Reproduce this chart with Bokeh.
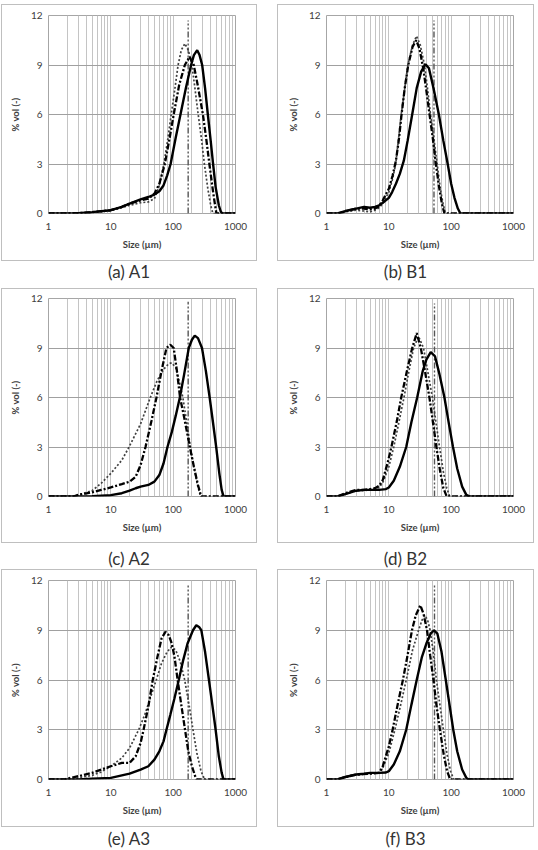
from bokeh.plotting import figure
from bokeh.models import Range1d, FixedTicker, NumeralTickFormatter, Div, Spacer
from bokeh.layouts import column, row
from bokeh.embed import file_html
from bokeh.resources import INLINE

# ---------------- data (size in µm, % vol) ----------------
captions = ["(a) A1", "(b) B1", "(c) A2", "(d) B2", "(e) A3", "(f) B3"]
y_ticks = [0, 3, 6, 9, 12]
x_ticks = [1, 10, 100, 1000]

# A1
a1_solid_x = [1, 3, 5, 10, 15, 20, 30, 40, 50, 60, 70, 80, 91, 110, 131, 160, 194, 215, 243, 265, 292, 325, 360, 400, 437, 480, 540, 580, 610, 1000]
a1_solid_y = [0, 0.02, 0.08, 0.2, 0.4, 0.6, 0.85, 1.0, 1.15, 1.35, 1.7, 2.3, 3.0, 4.6, 6.0, 7.6, 9.0, 9.6, 9.9, 9.6, 9.0, 7.6, 6.0, 4.4, 3.0, 1.6, 0.5, 0.12, 0, 0]
a1_dash_x = [1, 3, 5, 10, 15, 20, 30, 40, 50, 60, 73.5, 87, 102, 125, 154, 183, 214, 250, 300, 340, 381, 430, 470, 495, 1000]
a1_dash_y = [0, 0.02, 0.08, 0.2, 0.4, 0.6, 0.8, 0.9, 1.2, 1.8, 3.0, 4.5, 6.0, 7.8, 9.0, 9.5, 9.0, 7.7, 6.0, 4.5, 3.0, 1.5, 0.5, 0, 0]
a1_dot_x = [1, 3, 5, 10, 15, 20, 30, 40, 50, 60, 71, 82, 93, 106, 120, 135, 154, 175, 200, 225, 252, 285, 317, 360, 400, 433, 1000]
a1_dot_y = [0, 0.02, 0.06, 0.18, 0.35, 0.5, 0.65, 0.7, 0.9, 1.7, 3.0, 4.5, 6.0, 7.5, 9.0, 9.9, 10.3, 9.9, 9.0, 7.5, 6.0, 4.5, 3.0, 1.5, 0.5, 0, 0]

# B1
b1_solid_x = [1, 1.5, 2, 3, 4, 5, 6, 7, 8, 10, 11.3, 13, 15, 17.4, 20, 23.7, 28, 33, 38.7, 44, 52, 63.5, 75, 88, 100, 113, 128, 141, 1000]
b1_solid_y = [0, 0, 0.15, 0.3, 0.4, 0.35, 0.4, 0.5, 0.65, 0.95, 1.3, 1.8, 2.4, 3.2, 4.4, 6.0, 7.6, 8.6, 9.05, 8.8, 7.6, 6.0, 4.4, 3.0, 1.8, 0.95, 0.3, 0, 0]
b1_dash_x = [1, 1.5, 2, 3, 4, 5, 6, 7, 8, 10, 11.5, 13, 14.5, 16, 18, 20.5, 24, 27.5, 31, 36, 40.5, 45, 51, 57, 64, 71, 78, 1000]
b1_dash_y = [0, 0, 0.12, 0.3, 0.3, 0.25, 0.3, 0.45, 0.8, 1.5, 2.3, 3.2, 4.5, 6.0, 7.6, 9.0, 10.1, 10.5, 10.0, 8.7, 7.3, 6.0, 4.5, 3.0, 1.6, 0.6, 0, 0]
b1_dot_x = [1, 1.5, 2, 3, 4, 5, 6, 7, 8, 10, 11.5, 12.9, 14.3, 15.8, 18, 20.2, 24, 27.8, 32, 37.3, 42, 46.6, 53, 59.6, 67, 74, 81, 1000]
b1_dot_y = [0, 0, 0.1, 0.2, 0.15, 0.1, 0.2, 0.35, 0.6, 1.3, 2.1, 3.0, 4.5, 6.0, 7.6, 9.0, 10.2, 10.75, 10.2, 9.0, 7.5, 6.0, 4.5, 3.0, 1.5, 0.6, 0, 0]

# A2
a2_solid_x = [1, 3, 5, 10, 15, 20, 25, 30, 40, 50, 60, 70, 81, 95, 110, 128, 150, 178, 200, 222, 250, 290, 335, 385, 435, 490, 550, 600, 645, 1000]
a2_solid_y = [0, 0, 0.02, 0.08, 0.2, 0.35, 0.5, 0.6, 0.7, 0.9, 1.3, 2.0, 3.0, 3.9, 4.9, 6.0, 7.4, 9.0, 9.5, 9.75, 9.6, 9.0, 7.6, 6.0, 4.5, 3.0, 1.4, 0.4, 0, 0]
a2_dash_x = [1, 2.5, 3, 5, 7, 10, 15, 20, 25, 30, 36, 45, 54, 65, 78, 90, 102, 115, 129, 150, 185, 215, 250, 282, 1000]
a2_dash_y = [0, 0, 0.1, 0.25, 0.4, 0.55, 0.75, 0.9, 1.2, 1.9, 3.0, 4.6, 6.0, 7.6, 9.0, 9.2, 9.0, 7.6, 6.0, 4.8, 3.0, 1.8, 0.7, 0, 0]
a2_dot_x = [1, 2.5, 3, 5, 7, 10, 15, 19.6, 30, 43, 55, 70, 85, 95, 110, 125, 143, 165, 189, 215, 245, 275, 1000]
a2_dot_y = [0, 0, 0.1, 0.35, 0.8, 1.4, 2.2, 3.0, 4.4, 6.0, 7.0, 7.7, 8.05, 8.1, 7.8, 7.0, 6.0, 4.5, 3.0, 1.8, 0.7, 0, 0]

# B2
b2_solid_x = [1, 1.5, 2, 3, 4, 5, 7, 9, 10, 12, 15, 19, 23, 28.5, 35, 40, 47, 55, 65, 78, 92, 107, 125, 150, 175, 200, 1000]
b2_solid_y = [0, 0, 0.15, 0.35, 0.4, 0.4, 0.4, 0.45, 0.55, 0.95, 1.8, 3.0, 4.5, 6.0, 7.6, 8.3, 8.75, 8.5, 7.4, 6.0, 4.4, 3.0, 1.7, 0.6, 0.1, 0, 0]
b2_dash_x = [1, 1.5, 2, 3, 4, 5, 6, 7, 8, 9.5, 11, 13.5, 15.8, 19.5, 23.7, 28, 32.6, 38, 44.8, 51, 58, 66, 75, 85, 1000]
b2_dash_y = [0, 0, 0.2, 0.4, 0.4, 0.45, 0.5, 0.65, 1.0, 2.0, 3.0, 4.6, 6.0, 7.6, 9.0, 9.9, 9.0, 7.6, 6.0, 4.5, 3.0, 1.6, 0.5, 0, 0]
b2_dot_x = [1, 1.5, 2, 3, 4, 5, 6, 7, 8, 10, 12, 14.5, 17.5, 21, 25, 30, 36, 42, 50, 57, 65, 75, 85, 95, 1000]
b2_dot_y = [0, 0, 0.15, 0.35, 0.35, 0.4, 0.45, 0.55, 0.85, 1.8, 3.0, 4.5, 6.0, 7.6, 9.0, 9.7, 9.0, 7.6, 6.0, 4.5, 3.0, 1.5, 0.5, 0, 0]

# A3
a3_solid_x = [1, 3, 5, 10, 20, 30, 40, 50, 60, 70, 78, 90, 105, 123, 145, 170, 208, 235, 260, 283, 325, 375, 425, 480, 540, 600, 645, 1000]
a3_solid_y = [0, 0, 0.05, 0.1, 0.35, 0.6, 0.8, 1.2, 1.7, 2.3, 3.0, 3.9, 4.9, 6.0, 7.2, 8.2, 9.0, 9.3, 9.2, 9.0, 7.7, 6.0, 4.5, 3.0, 1.4, 0.4, 0, 0]
a3_dash_x = [1, 1.8, 2, 3, 5, 7, 10, 15, 20, 25, 30, 33.5, 40, 47, 56, 65, 75, 85, 95, 105, 118, 135, 155, 175, 200, 230, 240, 1000]
a3_dash_y = [0, 0, 0.05, 0.2, 0.4, 0.6, 0.8, 1.0, 1.0, 1.4, 2.2, 3.0, 4.4, 6.0, 7.4, 8.5, 8.9, 8.7, 8.2, 7.4, 6.0, 4.5, 3.0, 1.7, 0.8, 0.1, 0, 0]
a3_dot_x = [1, 2.5, 3, 5, 7, 10, 15, 20, 28, 35, 42, 53.5, 65, 80, 95, 110, 130, 153, 180, 208, 240, 280, 320, 1000]
a3_dot_y = [0, 0, 0.1, 0.25, 0.45, 0.8, 1.3, 1.9, 3.0, 3.9, 4.8, 6.0, 7.0, 7.7, 8.0, 7.8, 7.1, 6.0, 4.5, 3.0, 1.6, 0.5, 0, 0]

# B3
b3_solid_x = [1, 1.5, 2, 3, 4, 5, 7, 9, 10, 12, 15, 19, 23, 28, 34, 40, 47, 53, 60, 70, 82, 95, 108, 125, 150, 175, 190, 1000]
b3_solid_y = [0, 0, 0.15, 0.3, 0.35, 0.4, 0.4, 0.42, 0.5, 0.9, 1.7, 3.0, 4.5, 6.0, 7.4, 8.2, 8.8, 9.0, 8.8, 7.7, 6.0, 4.4, 3.0, 1.7, 0.6, 0.1, 0, 0]
b3_dash_x = [1, 1.5, 2, 3, 5, 7, 8, 10, 11.5, 14, 16.8, 20, 23.5, 27, 32, 36, 41, 46, 52, 58, 66, 76, 86, 97, 1000]
b3_dash_y = [0, 0, 0.15, 0.3, 0.35, 0.4, 0.8, 2.0, 3.0, 4.6, 6.0, 7.5, 9.0, 9.9, 10.5, 10.0, 9.0, 7.5, 6.0, 4.5, 3.0, 1.5, 0.5, 0, 0]
b3_dot_x = [1, 1.5, 2, 3, 5, 7, 8, 10, 12.5, 15.5, 19, 24, 30, 34, 38, 42, 46, 52, 58, 66, 75, 86, 98, 110, 1000]
b3_dot_y = [0, 0, 0.12, 0.28, 0.35, 0.4, 0.7, 1.6, 3.0, 4.5, 6.0, 7.8, 9.0, 9.6, 9.9, 9.6, 9.0, 7.6, 6.0, 4.5, 3.0, 1.5, 0.5, 0, 0]

# reference (vertical) size lines: position and height
ref_size = [174, 53, 174, 54, 174, 54]
ref_height = [11.7, 11.7, 11.8, 11.7, 11.7, 11.7]

series = [
    (a1_solid_x, a1_solid_y, a1_dash_x, a1_dash_y, a1_dot_x, a1_dot_y),
    (b1_solid_x, b1_solid_y, b1_dash_x, b1_dash_y, b1_dot_x, b1_dot_y),
    (a2_solid_x, a2_solid_y, a2_dash_x, a2_dash_y, a2_dot_x, a2_dot_y),
    (b2_solid_x, b2_solid_y, b2_dash_x, b2_dash_y, b2_dot_x, b2_dot_y),
    (a3_solid_x, a3_solid_y, a3_dash_x, a3_dash_y, a3_dot_x, a3_dot_y),
    (b3_solid_x, b3_solid_y, b3_dash_x, b3_dash_y, b3_dot_x, b3_dot_y),
]

# ---------------- layout geometry ----------------
FONT = "Lato"
COL_W = [256, 257]
COL_L = [47, 49]
FRAME_W = 187
ROW_H = [257, 255, 258]
ROW_T = [11, 10, 11]
FRAME_H = [198, 198, 199]
CAP_H = [27, 26, 23]
CAP_PAD = [1, 6, 2]
TOP_GAP = 4
LEFT_GAP = 1
MID_GAP = 20


def make_panel(i):
    r, c = divmod(i, 2)
    W, H = COL_W[c], ROW_H[r]
    p = figure(width=W, height=H, x_axis_type="log",
               x_range=Range1d(1, 1000), y_range=Range1d(0, 12),
               output_backend="svg", toolbar_location=None, title=None,
               min_border_left=COL_L[c], min_border_right=W - COL_L[c] - FRAME_W,
               min_border_top=ROW_T[r], min_border_bottom=H - ROW_T[r] - FRAME_H[r],
               margin=0,
               styles={"outline": "1.5px solid #bfbfbf", "outline-offset": "-1.5px"})
    p.background_fill_color = "white"
    p.border_fill_color = None
    p.outline_line_color = "#a6a6a6"
    p.outline_line_width = 1

    minor = [m * 10 ** e for e in range(3) for m in range(2, 10)]
    xt = FixedTicker(ticks=x_ticks, minor_ticks=minor)
    yt = FixedTicker(ticks=y_ticks)
    p.xaxis.ticker = xt
    p.xgrid.ticker = xt
    p.yaxis.ticker = yt
    p.ygrid.ticker = yt
    p.xaxis.formatter = NumeralTickFormatter(format="0")

    p.xgrid.grid_line_color = "#c4c4c4"
    p.xgrid.minor_grid_line_color = "#c4c4c4"
    p.xgrid.grid_line_width = 1
    p.ygrid.grid_line_color = "#a0a0a0"
    p.ygrid.grid_line_width = 1

    for ax in (p.xaxis[0], p.yaxis[0]):
        ax.axis_line_color = None
        ax.major_tick_line_color = None
        ax.minor_tick_line_color = None
        ax.major_tick_out = 0
        ax.major_tick_in = 0
        ax.minor_tick_out = 0
        ax.minor_tick_in = 0
        ax.major_label_text_font = FONT
        ax.major_label_text_font_size = "10px"
        ax.major_label_text_color = "#404040"
        ax.axis_label_text_font = FONT
        ax.axis_label_text_font_size = "9.5px"
        ax.axis_label_text_font_style = "bold"
        ax.axis_label_text_color = "#404040"
    p.xaxis.axis_label = "Size (µm)"
    p.yaxis.axis_label = "% vol (-)"
    p.xaxis.major_label_standoff = 9
    p.xaxis.axis_label_standoff = 6
    p.yaxis.major_label_standoff = 6
    p.yaxis.axis_label_standoff = 7

    sx, sy, dx, dy, tx, ty = series[i]
    p.segment(x0=[ref_size[i]], y0=[0], x1=[ref_size[i]], y1=[ref_height[i]],
              line_color="#555555", line_width=1.4, line_dash="6 2 2 2 2 2")
    p.line(tx, ty, line_color="#404040", line_width=1.7, line_dash="2 2")
    p.line(dx, dy, line_color="black", line_width=2.3, line_dash="6 2 2 2")
    p.line(sx, sy, line_color="black", line_width=2.4)
    return p


def make_caption(i):
    r, c = divmod(i, 2)
    html = ('<div style="width:%dpx;padding-top:%dpx;text-align:center;'
            'font-family:Lato;font-size:17px;line-height:20px;color:#333333;">%s</div>'
            % (COL_W[c], CAP_PAD[r], captions[i]))
    return Div(text=html, width=COL_W[c], height=CAP_H[r], margin=0,
               styles={"overflow": "visible"})


rows = [Spacer(width=538, height=TOP_GAP, margin=0)]
for r in range(3):
    i0, i1 = 2 * r, 2 * r + 1
    rows.append(row(Spacer(width=LEFT_GAP, height=ROW_H[r], margin=0), make_panel(i0),
                    Spacer(width=MID_GAP, height=ROW_H[r], margin=0), make_panel(i1),
                    spacing=0, margin=0))
    rows.append(row(Spacer(width=LEFT_GAP, height=CAP_H[r], margin=0), make_caption(i0),
                    Spacer(width=MID_GAP, height=CAP_H[r], margin=0), make_caption(i1),
                    spacing=0, margin=0))

layout = column(*rows, spacing=0, margin=0)

open("out.html", "w").write(file_html(layout, INLINE))
